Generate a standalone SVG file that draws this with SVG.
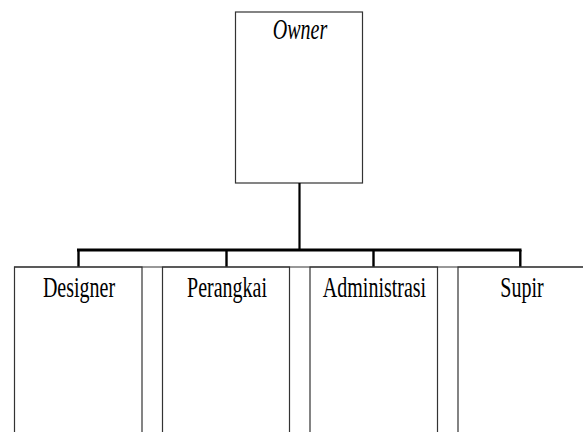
<svg xmlns="http://www.w3.org/2000/svg" width="583" height="432" viewBox="0 0 583 432">
<style>
.box{fill:#fff;stroke:#333;stroke-width:1.2}
.lbl{font-family:"Liberation Serif","Times New Roman",serif;font-size:20px;fill:#000;text-anchor:middle}
.conn{stroke:#000;fill:none}
</style>
<rect width="583" height="432" fill="#fff"/>
<g id="owner">
<rect class="box" x="235.5" y="12" width="127" height="171"/>
<text class="lbl" font-style="italic" transform="translate(300,39) scale(1,1.5)">Owner</text>
</g>
<g id="connectors">
<line class="conn" x1="299.5" y1="183" x2="299.5" y2="250" stroke-width="2.2"/>
<line class="conn" x1="77" y1="250" x2="521.5" y2="250" stroke-width="3.2"/>
<line class="conn" x1="78.5" y1="250" x2="78.5" y2="267" stroke-width="2.4"/>
<line class="conn" x1="226.5" y1="250" x2="226.5" y2="267" stroke-width="2.4"/>
<line class="conn" x1="373.5" y1="250" x2="373.5" y2="267" stroke-width="2.4"/>
<line class="conn" x1="520.3" y1="250" x2="520.3" y2="267" stroke-width="2.4"/>
</g>
<g id="designer">
<rect class="box" x="14.5" y="267" width="127.5" height="180"/>
<text class="lbl" transform="translate(79,297) scale(1,1.5)">Designer</text>
</g>
<g id="perangkai">
<rect class="box" x="162.5" y="267" width="127" height="180"/>
<text class="lbl" transform="translate(227,297) scale(1,1.5)">Perangkai</text>
</g>
<g id="administrasi">
<rect class="box" x="310" y="267" width="127.5" height="180"/>
<text class="lbl" transform="translate(374.5,297) scale(1,1.5)">Administrasi</text>
</g>
<g id="supir">
<rect class="box" x="458" y="267" width="140" height="180"/>
<text class="lbl" transform="translate(522,297) scale(1,1.5)">Supir</text>
</g>
<line x1="14" y1="267" x2="583" y2="267" stroke="#333" stroke-width="1.2"/>
</svg>
